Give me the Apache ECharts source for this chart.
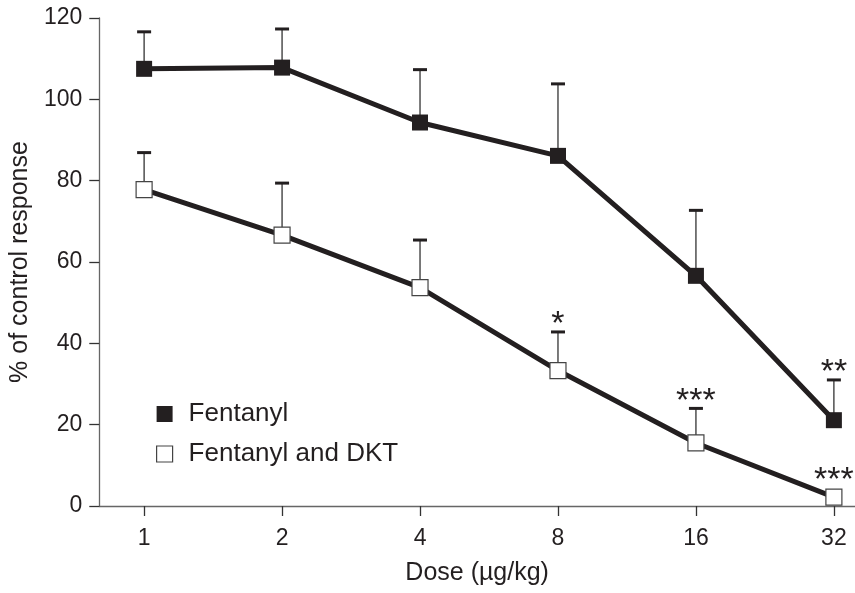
<!DOCTYPE html>
<html>
<head>
<meta charset="utf-8">
<script src="https://cdn.jsdelivr.net/npm/echarts@6/dist/echarts.min.js"></script>
<style>
  html, body { margin: 0; padding: 0; background: #fff; }
  #chart { width: 855px; height: 593px; }
</style>
</head>
<body>
<div id="chart"></div>
<script>
// dose categories (log2 spaced, drawn at index 0..5)
const doses = ['1', '2', '4', '8', '16', '32'];

// Fentanyl alone: mean and top of SEM bar
const fentMean = [107.5, 107.8, 94.3, 86.1, 56.6, 21.1];
const fentTop = [116.6, 117.3, 107.3, 103.8, 72.7, 31.0];
const fentStars = ['', '', '', '', '', '**'];

// Fentanyl and DKT
const dktMean = [77.8, 66.6, 53.7, 33.3, 15.5, 2.2];
const dktTop = [86.9, 79.4, 65.4, 42.8, 24.0, 2.2];
const dktStars = ['', '', '', '*', '***', '***'];

const yTicks = [0, 20, 40, 60, 80, 100, 120];

const ink = '#231f20';
const axisGrey = '#666';
const font = '"Liberation Sans", Arial, Helvetica, sans-serif';

function pts(vals) {
    return vals.map((v, i) => [i, v]);
}
function barData(mean, top, stars) {
    return mean.map((m, i) => [i, m, top[i], stars[i]]);
}

function renderErr(params, api) {
    const x = api.value(0);
    const mean = api.value(1);
    const top = api.value(2);
    const stars = api.value(3);
    const pMean = api.coord([x, mean]);
    const pTop = api.coord([x, top]);
    const children = [];
    if (top > mean) {
        children.push({
            type: 'line',
            shape: { x1: pMean[0], y1: pMean[1], x2: pTop[0], y2: pTop[1] },
            style: { stroke: '#333', lineWidth: 1.3 }
        });
        children.push({
            type: 'line',
            shape: { x1: pTop[0] - 7, y1: pTop[1], x2: pTop[0] + 7, y2: pTop[1] },
            style: { stroke: ink, lineWidth: 3 }
        });
    }
    if (stars) {
        const yBase = Math.min(pTop[1], pMean[1] - 9);
        children.push({
            type: 'text',
            x: pTop[0],
            y: yBase - 7,
            style: {
                text: stars,
                font: '34px ' + font,
                fill: ink,
                align: 'center',
                verticalAlign: 'middle'
            }
        });
    }
    return { type: 'group', children: children };
}

const chart = echarts.init(document.getElementById('chart'), null, { renderer: 'canvas' });

chart.setOption({
    animation: false,
    backgroundColor: '#fff',
    textStyle: { fontFamily: font },
    grid: { left: 97, right: 0, top: 18, bottom: 87, containLabel: false },
    legend: {
        orient: 'vertical',
        left: 151,
        top: 396,
        itemWidth: 16,
        itemHeight: 16,
        itemGap: 14,
        textStyle: { fontSize: 26, color: ink, padding: [0, 0, 0, 11] },
        data: [
            { name: 'Fentanyl', icon: 'rect', itemStyle: { color: ink, borderWidth: 0 }, lineStyle: { width: 0, opacity: 0 } },
            { name: 'Fentanyl and DKT', icon: 'rect', itemStyle: { color: '#fff', borderColor: '#444', borderWidth: 1.2 }, lineStyle: { width: 0, opacity: 0 } }
        ]
    },
    xAxis: {
        type: 'value',
        min: -0.325,
        max: 5.153,
        name: 'Dose (µg/kg)',
        nameLocation: 'middle',
        nameGap: 55,
        nameTextStyle: { fontSize: 25, color: ink },
        splitLine: { show: false },
        axisLine: { onZero: false, lineStyle: { color: axisGrey, width: 1.3 } },
        axisTick: { customValues: [0, 1, 2, 3, 4, 5], length: 10, lineStyle: { color: '#333', width: 1.3 } },
        axisLabel: {
            customValues: [0, 1, 2, 3, 4, 5],
            formatter: v => doses[Math.round(v)],
            fontSize: 23,
            color: ink,
            margin: 21
        }
    },
    yAxis: {
        type: 'value',
        min: 0,
        max: 120,
        interval: 20,
        name: '% of control response',
        nameLocation: 'middle',
        nameGap: 63,
        nameTextStyle: { fontSize: 25, color: ink },
        splitLine: { show: false },
        axisLine: { show: true, onZero: false, lineStyle: { color: axisGrey, width: 1.3 } },
        axisTick: { show: true, length: 10, lineStyle: { color: '#333', width: 1.3 } },
        axisLabel: { fontSize: 23, color: ink, margin: 17, formatter: v => yTicks.includes(v) ? String(v) : '' }
    },
    series: [
        {
            type: 'custom',
            name: 'errFent',
            renderItem: renderErr,
            data: barData(fentMean, fentTop, fentStars),
            encode: { x: 0, y: 2 },
            z: 1,
            silent: true
        },
        {
            type: 'custom',
            name: 'errDkt',
            renderItem: renderErr,
            data: barData(dktMean, dktTop, dktStars),
            encode: { x: 0, y: 2 },
            z: 1,
            silent: true
        },
        {
            type: 'line',
            name: 'Fentanyl',
            data: pts(fentMean),
            symbol: 'rect',
            symbolSize: 16,
            lineStyle: { color: ink, width: 5 },
            itemStyle: { color: ink, borderWidth: 0 },
            z: 3
        },
        {
            type: 'line',
            name: 'Fentanyl and DKT',
            data: pts(dktMean),
            symbol: 'rect',
            symbolSize: 16,
            lineStyle: { color: ink, width: 5 },
            itemStyle: { color: '#fff', borderColor: '#444', borderWidth: 1.2 },
            z: 3
        }
    ]
});
</script>
</body>
</html>
